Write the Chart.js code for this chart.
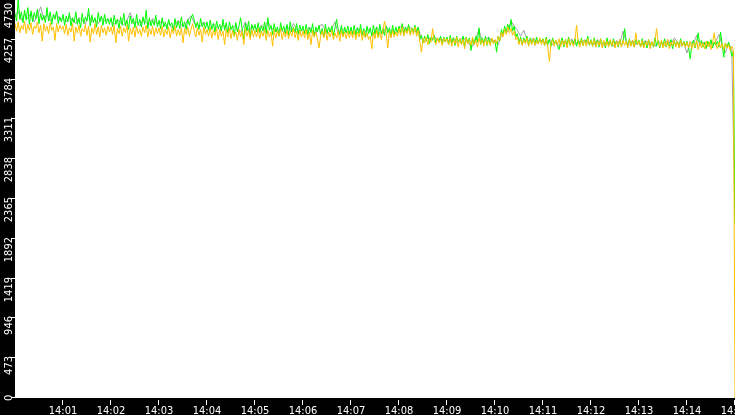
<!DOCTYPE html>
<html>
<head>
<meta charset="utf-8">
<script src="https://cdn.jsdelivr.net/npm/chart.js@4.4.1/dist/chart.umd.min.js"></script>
<style>
  html, body { margin: 0; padding: 0; background: #000; }
  #wrap { width: 735px; height: 415px; position: relative; }
</style>
</head>
<body>
<div id="wrap"><canvas id="trend"></canvas></div>
<script>
// tick labels
const yTicks = [0, 473, 946, 1419, 1892, 2365, 2838, 3311, 3784, 4257, 4730];
const xTickSecs = [60, 120, 180, 240, 300, 360, 420, 480, 540, 600, 660, 720, 780, 840, 900];
const xTickLabels = ['14:01', '14:02', '14:03', '14:04', '14:05', '14:06', '14:07', '14:08',
  '14:09', '14:10', '14:11', '14:12', '14:13', '14:14', '14:15'];

// one sample every 2 s from 14:00:00 (30 per row = 1 minute), last value is 14:15:00
const greenVals = [
  4570, 4480, 4730, 4500, 4590, 4460, 4610, 4490, 4640, 4440, 4600, 4470, 4580, 4510, 4620, 4450, 4570, 4490, 4550, 4460, 4640, 4480, 4590, 4440, 4560, 4500, 4600, 4450, 4530, 4470,
  4560, 4430, 4540, 4470, 4580, 4420, 4520, 4460, 4590, 4440, 4510, 4400, 4570, 4450, 4530, 4480, 4630, 4420, 4550, 4460, 4520, 4410, 4580, 4470, 4540, 4430, 4560, 4450, 4510, 4440,
  4520, 4410, 4550, 4440, 4500, 4390, 4530, 4430, 4570, 4420, 4490, 4380, 4540, 4450, 4510, 4400, 4560, 4430, 4500, 4410, 4530, 4440, 4610, 4390, 4520, 4420, 4490, 4430, 4550, 4410,
  4490, 4390, 4520, 4410, 4470, 4380, 4500, 4420, 4460, 4370, 4510, 4400, 4480, 4390, 4530, 4410, 4470, 4380, 4500, 4430, 4520, 4560, 4490, 4400, 4470, 4380, 4510, 4410, 4460, 4390,
  4470, 4370, 4490, 4380, 4450, 4350, 4480, 4390, 4440, 4360, 4500, 4370, 4460, 4340, 4470, 4380, 4430, 4300, 4460, 4350, 4420, 4520, 4380, 4260, 4450, 4360, 4480, 4290, 4440, 4370,
  4440, 4350, 4460, 4340, 4420, 4360, 4470, 4330, 4520, 4370, 4430, 4320, 4450, 4350, 4410, 4300, 4460, 4360, 4420, 4330, 4440, 4310, 4470, 4350, 4410, 4340, 4450, 4320, 4430, 4360,
  4420, 4330, 4440, 4310, 4400, 4340, 4450, 4300, 4410, 4350, 4430, 4320, 4390, 4290, 4440, 4330, 4410, 4350, 4420, 4310, 4400, 4500, 4380, 4320, 4430, 4300, 4410, 4340, 4420, 4330,
  4410, 4320, 4430, 4300, 4400, 4330, 4440, 4310, 4390, 4280, 4420, 4330, 4400, 4300, 4430, 4320, 4410, 4290, 4440, 4330, 4390, 4310, 4420, 4340, 4400, 4300, 4430, 4320, 4410, 4340,
  4420, 4340, 4450, 4320, 4410, 4350, 4440, 4330, 4400, 4360, 4430, 4340, 4410, 4260, 4310, 4220, 4300, 4240, 4320, 4210, 4290, 4250, 4310, 4220, 4280, 4240, 4300, 4210, 4290, 4230,
  4290, 4200, 4310, 4220, 4280, 4190, 4300, 4230, 4270, 4210, 4300, 4180, 4290, 4220, 4280, 4130, 4270, 4210, 4300, 4230, 4400, 4200, 4280, 4220, 4300, 4190, 4290, 4210, 4270, 4230,
  4240, 4110, 4300, 4250, 4380, 4320, 4420, 4350, 4440, 4380, 4500, 4360, 4420, 4290, 4330, 4220, 4290, 4200, 4280, 4230, 4300, 4190, 4280, 4220, 4270, 4200, 4290, 4210, 4260, 4230,
  4270, 4190, 4290, 4200, 4260, 4180, 4280, 4210, 4250, 4190, 4140, 4220, 4280, 4170, 4260, 4200, 4290, 4190, 4250, 4210, 4270, 4180, 4260, 4200, 4280, 4190, 4250, 4220, 4300, 4190,
  4260, 4180, 4280, 4190, 4250, 4170, 4270, 4200, 4240, 4160, 4280, 4190, 4250, 4180, 4270, 4200, 4240, 4170, 4260, 4190, 4230, 4390, 4250, 4180, 4270, 4190, 4240, 4170, 4260, 4200,
  4250, 4170, 4270, 4180, 4240, 4160, 4260, 4190, 4230, 4170, 4280, 4180, 4250, 4160, 4240, 4190, 4270, 4170, 4230, 4180, 4260, 4150, 4250, 4190, 4240, 4170, 4270, 4180, 4240, 4190,
  4240, 4170, 4030, 4200, 4250, 4160, 4230, 4340, 4190, 4250, 4170, 4230, 4150, 4240, 4180, 4260, 4160, 4230, 4190, 4240, 4170, 4350, 4200, 4050, 4220, 4170, 4230, 4160, 4060, 4120,
  2070
];
const orangeVals = [
  4450, 4360, 4470, 4340, 4430, 4380, 4480, 4330, 4440, 4370, 4460, 4320, 4420, 4390, 4470, 4340, 4430, 4240, 4450, 4360, 4420, 4330, 4460, 4370, 4410, 4250, 4450, 4350, 4430, 4380,
  4420, 4330, 4440, 4310, 4400, 4350, 4450, 4240, 4410, 4340, 4430, 4300, 4390, 4350, 4440, 4310, 4420, 4230, 4400, 4330, 4450, 4320, 4410, 4290, 4430, 4340, 4400, 4310, 4420, 4350,
  4410, 4320, 4430, 4220, 4390, 4330, 4420, 4300, 4400, 4340, 4430, 4240, 4390, 4320, 4410, 4290, 4420, 4330, 4380, 4300, 4410, 4340, 4430, 4290, 4390, 4320, 4420, 4300, 4400, 4330,
  4400, 4310, 4420, 4290, 4380, 4320, 4410, 4280, 4390, 4330, 4420, 4300, 4380, 4310, 4400, 4220, 4390, 4320, 4410, 4300, 4380, 4450, 4360, 4290, 4400, 4310, 4380, 4230, 4410, 4320,
  4380, 4300, 4400, 4280, 4370, 4310, 4390, 4260, 4380, 4300, 4360, 4200, 4380, 4290, 4400, 4270, 4370, 4300, 4350, 4250, 4380, 4290, 4360, 4200, 4390, 4300, 4370, 4260, 4380, 4290,
  4370, 4290, 4390, 4270, 4360, 4300, 4380, 4250, 4370, 4290, 4350, 4180, 4380, 4280, 4360, 4300, 4390, 4260, 4350, 4290, 4370, 4270, 4360, 4300, 4400, 4280, 4360, 4250, 4370, 4290,
  4360, 4280, 4380, 4260, 4350, 4200, 4370, 4290, 4350, 4270, 4160, 4300, 4360, 4280, 4380, 4250, 4350, 4290, 4370, 4260, 4340, 4280, 4360, 4240, 4370, 4290, 4350, 4270, 4360, 4280,
  4360, 4280, 4370, 4260, 4350, 4290, 4380, 4250, 4360, 4280, 4340, 4260, 4300, 4150, 4350, 4270, 4370, 4280, 4350, 4260, 4380, 4480, 4330, 4160, 4360, 4280, 4370, 4290, 4350, 4300,
  4390, 4310, 4410, 4300, 4380, 4330, 4400, 4310, 4390, 4320, 4410, 4300, 4370, 4240, 4110, 4270, 4220, 4290, 4200, 4270, 4230, 4390, 4250, 4200, 4280, 4220, 4270, 4190, 4280, 4230,
  4270, 4200, 4280, 4180, 4260, 4210, 4290, 4170, 4270, 4200, 4260, 4150, 4280, 4210, 4260, 4190, 4290, 4200, 4250, 4170, 4280, 4210, 4260, 4180, 4270, 4200, 4250, 4190, 4280, 4210,
  4260, 4210, 4300, 4250, 4350, 4290, 4380, 4320, 4410, 4340, 4390, 4310, 4360, 4260, 4290, 4200, 4270, 4190, 4260, 4210, 4280, 4180, 4260, 4200, 4270, 4190, 4250, 4210, 4280, 4200,
  4260, 4190, 4270, 4170, 4000, 4220, 4260, 4180, 4250, 4200, 4270, 4170, 4250, 4190, 4260, 4160, 4270, 4200, 4240, 4180, 4260, 4430, 4230, 4170, 4260, 4190, 4250, 4180, 4270, 4200,
  4250, 4180, 4260, 4170, 4240, 4190, 4270, 4160, 4250, 4180, 4240, 4170, 4260, 4190, 4250, 4160, 4240, 4180, 4260, 4170, 4250, 4190, 4240, 4160, 4260, 4180, 4250, 4170, 4340, 4200,
  4240, 4170, 4250, 4160, 4230, 4190, 4260, 4150, 4240, 4180, 4250, 4390, 4220, 4170, 4250, 4160, 4240, 4180, 4260, 4150, 4230, 4190, 4250, 4170, 4240, 4160, 4250, 4180, 4230, 4170,
  4230, 4160, 4240, 4150, 4220, 4170, 4250, 4140, 4230, 4160, 4220, 4150, 4240, 4170, 4230, 4140, 4220, 4340, 4200, 4150, 4230, 4160, 4210, 4140, 4220, 4160, 4200, 4130, 4180, 4140,
  0
];
// one sample every 4 s (15 per row = 1 minute)
const grayVals = [
  4530, 4600, 4490, 4560, 4510, 4580, 4470, 4540, 4650, 4500, 4560, 4480, 4530, 4570, 4490,
  4510, 4470, 4540, 4480, 4450, 4520, 4490, 4440, 4560, 4470, 4500, 4450, 4530, 4480, 4500,
  4480, 4440, 4500, 4460, 4430, 4490, 4580, 4450, 4470, 4420, 4500, 4460, 4440, 4510, 4460,
  4450, 4480, 4420, 4460, 4400, 4440, 4490, 4430, 4410, 4500, 4540, 4460, 4430, 4420, 4470,
  4430, 4390, 4450, 4410, 4370, 4440, 4390, 4360, 4400, 4430, 4330, 4380, 4470, 4370, 4410,
  4410, 4370, 4430, 4390, 4480, 4400, 4380, 4350, 4400, 4340, 4420, 4370, 4450, 4380, 4360,
  4380, 4340, 4410, 4360, 4330, 4420, 4440, 4370, 4340, 4390, 4470, 4330, 4400, 4360, 4340,
  4370, 4330, 4400, 4350, 4320, 4390, 4360, 4310, 4410, 4370, 4330, 4420, 4350, 4380, 4340,
  4390, 4430, 4360, 4420, 4380, 4350, 4400, 4270, 4250, 4290, 4260, 4300, 4250, 4280, 4240,
  4260, 4230, 4280, 4220, 4250, 4290, 4240, 4200, 4180, 4270, 4380, 4230, 4260, 4290, 4240,
  4250, 4200, 4310, 4370, 4350, 4480, 4420, 4370, 4300, 4370, 4260, 4240, 4280, 4220, 4250,
  4240, 4210, 4260, 4200, 4230, 4180, 4250, 4210, 4230, 4270, 4200, 4240, 4220, 4260, 4210,
  4230, 4200, 4260, 4210, 4190, 4240, 4220, 4180, 4250, 4210, 4360, 4230, 4200, 4250, 4200,
  4220, 4190, 4250, 4200, 4230, 4180, 4240, 4210, 4190, 4260, 4200, 4280, 4230, 4190, 4220,
  4100, 4230, 4210, 4310, 4190, 4230, 4180, 4220, 4200, 4240, 4320, 4190, 4100, 4210, 4140,
  2070
];

function toPoints(vals, step) {
  return vals.map((v, i) => ({ x: i * step, y: v }));
}

// fondo negro + area blanca + ejes dibujados a mano
const frame = {
  id: 'frame',
  beforeDraw(chart) {
    const { ctx, chartArea: a } = chart;
    ctx.save();
    ctx.fillStyle = '#000';
    ctx.fillRect(0, 0, chart.width, chart.height);
    ctx.fillStyle = '#fff';
    ctx.fillRect(a.left, a.top, a.right - a.left, a.bottom - a.top);
    ctx.restore();
  },
  afterDraw(chart) {
    const { ctx, chartArea: a, scales } = chart;
    ctx.save();
    ctx.strokeStyle = '#fff';
    ctx.fillStyle = '#fff';
    ctx.lineWidth = 1;
    ctx.font = '11px "DejaVu Sans Condensed", "DejaVu Sans", sans-serif';

    // y axis
    yTicks.forEach(v => {
      const py = Math.round(scales.y.getPixelForValue(v));
      ctx.beginPath();
      ctx.moveTo(11, py - 0.5);
      ctx.lineTo(a.left, py - 0.5);
      ctx.stroke();
      const label = String(v);
      const w = ctx.measureText(label).width;
      let top = Math.max(3, py - 2);
      if (top + w > 401) top = 401 - w;
      ctx.save();
      ctx.translate(12, top);
      ctx.rotate(-Math.PI / 2);
      ctx.textAlign = 'right';
      ctx.textBaseline = 'alphabetic';
      ctx.fillText(label, 0, 0);
      ctx.restore();
    });

    // x axis
    ctx.textAlign = 'center';
    ctx.textBaseline = 'alphabetic';
    xTickSecs.forEach((s, i) => {
      const px = Math.round(scales.x.getPixelForValue(s));
      ctx.beginPath();
      ctx.moveTo(px - 0.5, a.bottom + 2);
      ctx.lineTo(px - 0.5, a.bottom + 7);
      ctx.stroke();
      ctx.fillText(xTickLabels[i], px, 414);
    });
    ctx.restore();
  }
};

const lineStyle = { borderWidth: 1, pointRadius: 0, tension: 0, fill: false };

new Chart(document.getElementById('trend'), {
  type: 'line',
  data: {
    datasets: [
      { ...lineStyle, data: toPoints(orangeVals, 2), borderColor: '#ffc000' },
      { ...lineStyle, data: toPoints(greenVals, 2), borderColor: '#00ff00' },
      { ...lineStyle, data: toPoints(grayVals, 4), borderColor: '#a0a0a0' }
    ]
  },
  options: {
    responsive: true,
    maintainAspectRatio: false,
    animation: false,
    devicePixelRatio: 1,
    layout: { padding: { left: 15, top: 0, right: 0, bottom: 17 } },
    plugins: { legend: { display: false }, tooltip: { enabled: false } },
    scales: {
      x: { type: 'linear', min: 0, max: 900, display: false },
      y: { min: 0, max: 4730, display: false }
    }
  },
  plugins: [frame]
});
</script>
</body>
</html>
